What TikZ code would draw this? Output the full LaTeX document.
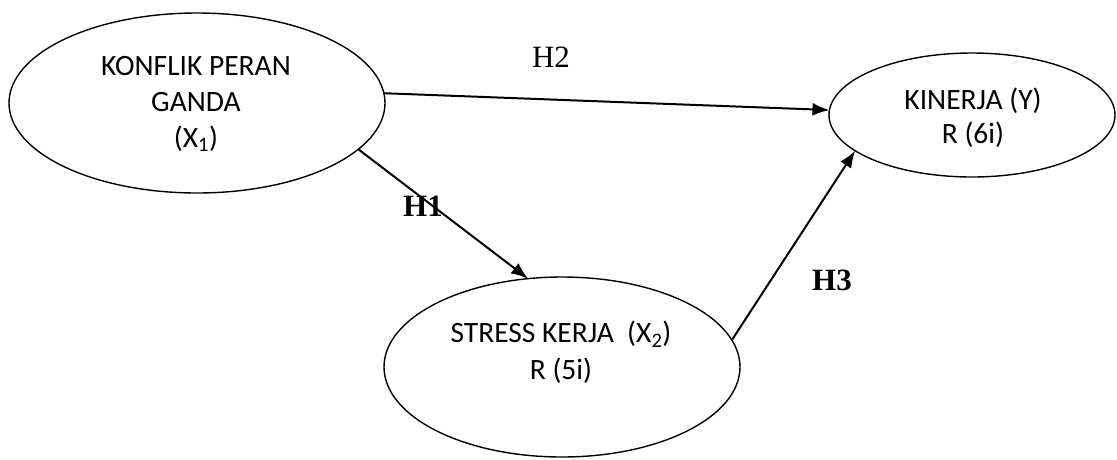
\documentclass[tikz,border=0pt]{standalone}
\usepackage{fontspec}
\setmainfont{Carlito}
\newfontfamily\tnr{Liberation Serif}
\usetikzlibrary{shapes.geometric,arrows.meta}
\begin{document}
\begin{tikzpicture}[x=1pt,y=-1pt,
  latent/.style={draw,ellipse,line width=1.4pt,inner sep=0pt,outer sep=0pt},
  ltext/.style={align=center,inner sep=0pt,font=\fontsize{29.5}{36}\selectfont},
  hyp/.style={inner sep=0pt,font=\tnr\fontsize{31}{36}\selectfont},
  link/.style={line width=2pt,-{Latex[length=17pt,width=13pt]}}]
\useasboundingbox (0,0) rectangle (1117,459);
\node[latent,minimum width=376pt,minimum height=180pt] (k) at (197,103) {};
\node[latent,minimum width=286pt,minimum height=124pt] (y) at (972,115) {};
\node[latent,minimum width=356pt,minimum height=180pt] (s) at (562,367) {};
\node[ltext] (kt) at (196,104) {KONFLIK PERAN\\GANDA\\(X\textsubscript{1})};
\node[ltext,font=\fontsize{29.5}{34}\selectfont] (yt) at (973,118) {KINERJA (Y)\\R (6i)};
\node[ltext,font=\fontsize{29.5}{37}\selectfont] (st) at (561,352) {STRESS KERJA\ \ (X\textsubscript{2})\\R (5i)};
\draw[link] (k.3) -- (y.178);
\draw[link] (k.-16) -- (s.111);
\draw[link] (s.9) -- (y.-163);
\node[hyp,anchor=base] (h2) at (551,67) {H2};
\node[hyp,anchor=base] (h1) at (423,216) {\bfseries H1};
\node[hyp,anchor=base] (h3) at (832,290) {\bfseries H3};
\end{tikzpicture}
\end{document}
